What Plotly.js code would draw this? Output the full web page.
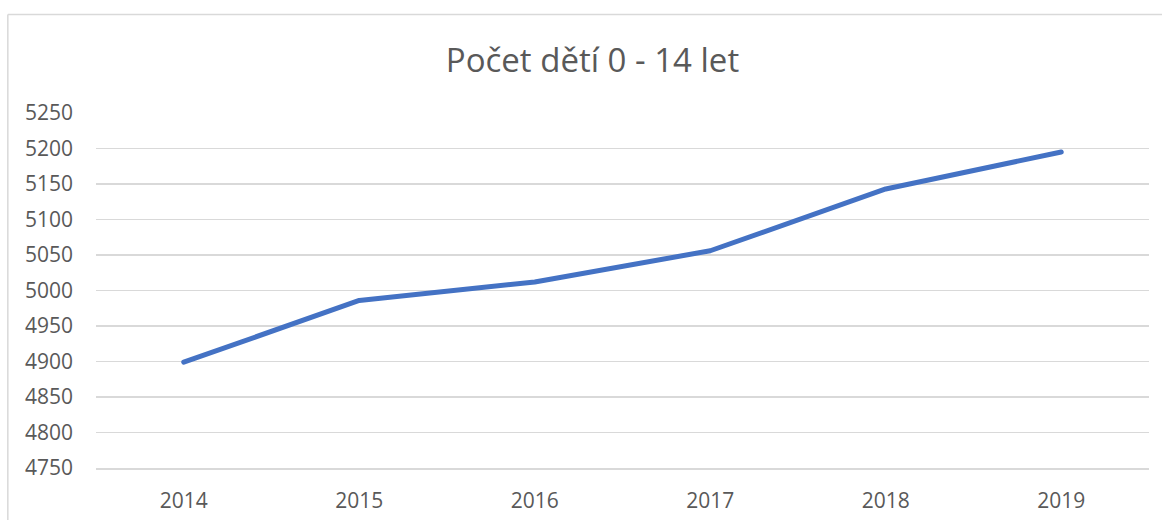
<!DOCTYPE html>
<html>
<head>
<meta charset="utf-8">
<script src="https://cdn.plot.ly/plotly-3.0.1.min.js"></script>
<style>
html,body{margin:0;padding:0;background:#fff;}
#chart{width:1162px;height:520px;}
#chart .js-line{stroke-linecap:round;stroke-linejoin:round;}
</style>
</head>
<body>
<div id="chart"></div>
<script>
var years = ['2014', '2015', '2016', '2017', '2018', '2019'];
var children = [4899, 4986, 5012, 5056, 5143, 5195];
var yTicks = [4750, 4800, 4850, 4900, 4950, 5000, 5050, 5100, 5150, 5200, 5250];
var chartTitle = 'Počet dětí 0 - 14 let';

var W = 1162, H = 520;
var L = 95.7, R = 13, T = 113.3, B = 52.3;
var pw = W - L - R, ph = H - T - B;
function px(x){ return (x - L) / pw; }
function py(y){ return (H - B - y) / ph; }

var trace = {
  x: years,
  y: children,
  type: 'scatter',
  mode: 'lines',
  line: {color: '#4472C4', width: 5, shape: 'linear'},
  hoverinfo: 'x+y'
};

var layout = {
  width: W, height: H,
  margin: {l: L, r: R, t: T, b: B, pad: 0},
  paper_bgcolor: '#ffffff',
  plot_bgcolor: '#ffffff',
  showlegend: false,
  font: {family: 'Open Sans, sans-serif', color: '#595959'},
  title: {
    text: chartTitle,
    font: {family: 'Open Sans, sans-serif', size: 33, color: '#595959'},
    xref: 'container', yref: 'container',
    x: 592.5 / W, y: 1 - 60 / H,
    xanchor: 'center', yanchor: 'middle'
  },
  xaxis: {
    type: 'category',
    range: [-0.5, 5.5],
    showgrid: false,
    zeroline: false,
    showline: true,
    linecolor: '#d9d9d9',
    linewidth: 1.5,
    ticks: '',
    tickfont: {size: 21, color: '#595959'},
    ticklabelstandoff: 13,
    fixedrange: true
  },
  yaxis: {
    range: [4750, 5250],
    tickvals: yTicks,
    ticktext: yTicks.map(String),
    showgrid: true,
    gridcolor: '#d9d9d9',
    gridwidth: 1.5,
    zeroline: false,
    showline: false,
    ticks: '',
    tickfont: {size: 21, color: '#595959'},
    ticklabelstandoff: 22,
    fixedrange: true
  },
  shapes: [
    {type: 'line', xref: 'paper', yref: 'paper',
     x0: px(7.5), x1: px(1200), y0: py(15), y1: py(15),
     line: {color: '#d9d9d9', width: 1.5}},
    {type: 'line', xref: 'paper', yref: 'paper',
     x0: px(7.5), x1: px(7.5), y0: py(15), y1: py(560),
     line: {color: '#d9d9d9', width: 1.5}}
  ]
};

Plotly.newPlot('chart', [trace], layout, {displayModeBar: false, staticPlot: true});
</script>
</body>
</html>
